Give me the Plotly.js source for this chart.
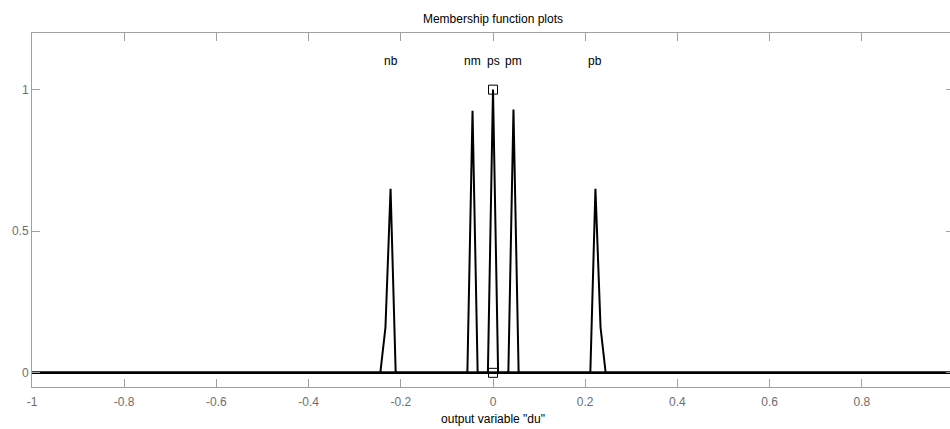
<!DOCTYPE html>
<html>
<head>
<meta charset="utf-8">
<script src="https://cdn.plot.ly/plotly-3.0.1.min.js"></script>
<style>
html, body { margin: 0; padding: 0; overflow: hidden; background: #fff; }
#chart { width: 956px; height: 429px; }
</style>
</head>
<body>
<div id="chart"></div>
<script>
// Membership function names
const mfNames = ['nb', 'nm', 'ps', 'pm', 'pb'];
// Sampled membership function points (x, y) over the universe [-1, 1]
const nbX = [-1, -0.2444, -0.2333, -0.2222, -0.2111, 1];
const nbY = [0, 0, 0.16, 0.65, 0, 0];
const nmX = [-1, -0.0556, -0.0444, -0.0333, 1];
const nmY = [0, 0, 0.925, 0, 0];
const psX = [-1, -0.0111, 0, 0.0111, 1];
const psY = [0, 0, 1, 0, 0];
const pmX = [-1, 0.0333, 0.0444, 0.0556, 1];
const pmY = [0, 0, 0.93, 0, 0];
const pbX = [-1, 0.2111, 0.2222, 0.2333, 0.2444, 1];
const pbY = [0, 0, 0.65, 0.16, 0, 0];
// Selected MF handle points
const handleX = [0, 0];
const handleY = [1, 0];
// Tick values
const xTicks = [-1, -0.8, -0.6, -0.4, -0.2, 0, 0.2, 0.4, 0.6, 0.8, 1];
const yTicks = [0, 0.5, 1];

const mfX = [nbX, nmX, psX, pmX, pbX];
const mfY = [nbY, nmY, psY, pmY, pbY];
const FONT = 'Liberation Sans, Arial, sans-serif';

const traces = mfX.map((xs, i) => ({
  x: xs, y: mfY[i], type: 'scatter', mode: 'lines',
  line: { color: '#000', width: 2 }, name: mfNames[i], hoverinfo: 'skip'
}));
traces.push({
  x: handleX, y: handleY, type: 'scatter', mode: 'markers',
  marker: { symbol: 'square-open', size: 9, color: '#000', line: { width: 1, color: '#000' } },
  hoverinfo: 'skip'
});

const annotations = mfNames.map((n, i) => {
  const ys = mfY[i];
  const k = ys.indexOf(Math.max(...ys));
  return {
    x: mfX[i][k], y: 1.1, xref: 'x', yref: 'y', text: n, showarrow: false,
    font: { family: FONT, size: 12, color: '#000000' }
  };
});

const axisCommon = {
  showgrid: false, zeroline: false, showline: true, linecolor: '#a0a0a0', linewidth: 1,
  mirror: 'ticks', ticks: 'inside', ticklen: 8, tickcolor: '#a0a0a0', tickwidth: 1,
  tickfont: { family: FONT, size: 12, color: '#6e6e6e' }
};

const layout = {
  width: 956, height: 429,
  margin: { l: 32, r: 2, t: 33, b: 42 },
  paper_bgcolor: '#fff', plot_bgcolor: '#fff',
  showlegend: false,
  title: {
    text: 'Membership function plots', x: 0.5, xref: 'paper', xanchor: 'center',
    y: 1 - 19 / 429, yref: 'container', yanchor: 'middle',
    font: { family: FONT, size: 12, color: '#000' }
  },
  xaxis: Object.assign({}, axisCommon, {
    range: [-1, 1], tickvals: xTicks, ticktext: xTicks.map(String),
    ticklabelstandoff: 4,
    title: { text: 'output variable "du"', standoff: 6,
      font: { family: FONT, size: 12, color: '#000' } }
  }),
  yaxis: Object.assign({}, axisCommon, {
    range: [-0.05, 1.2], tickvals: yTicks, ticktext: yTicks.map(String)
  }),
  annotations: annotations
};

Plotly.newPlot('chart', traces, layout, { displayModeBar: false, staticPlot: true });
</script>
</body>
</html>
